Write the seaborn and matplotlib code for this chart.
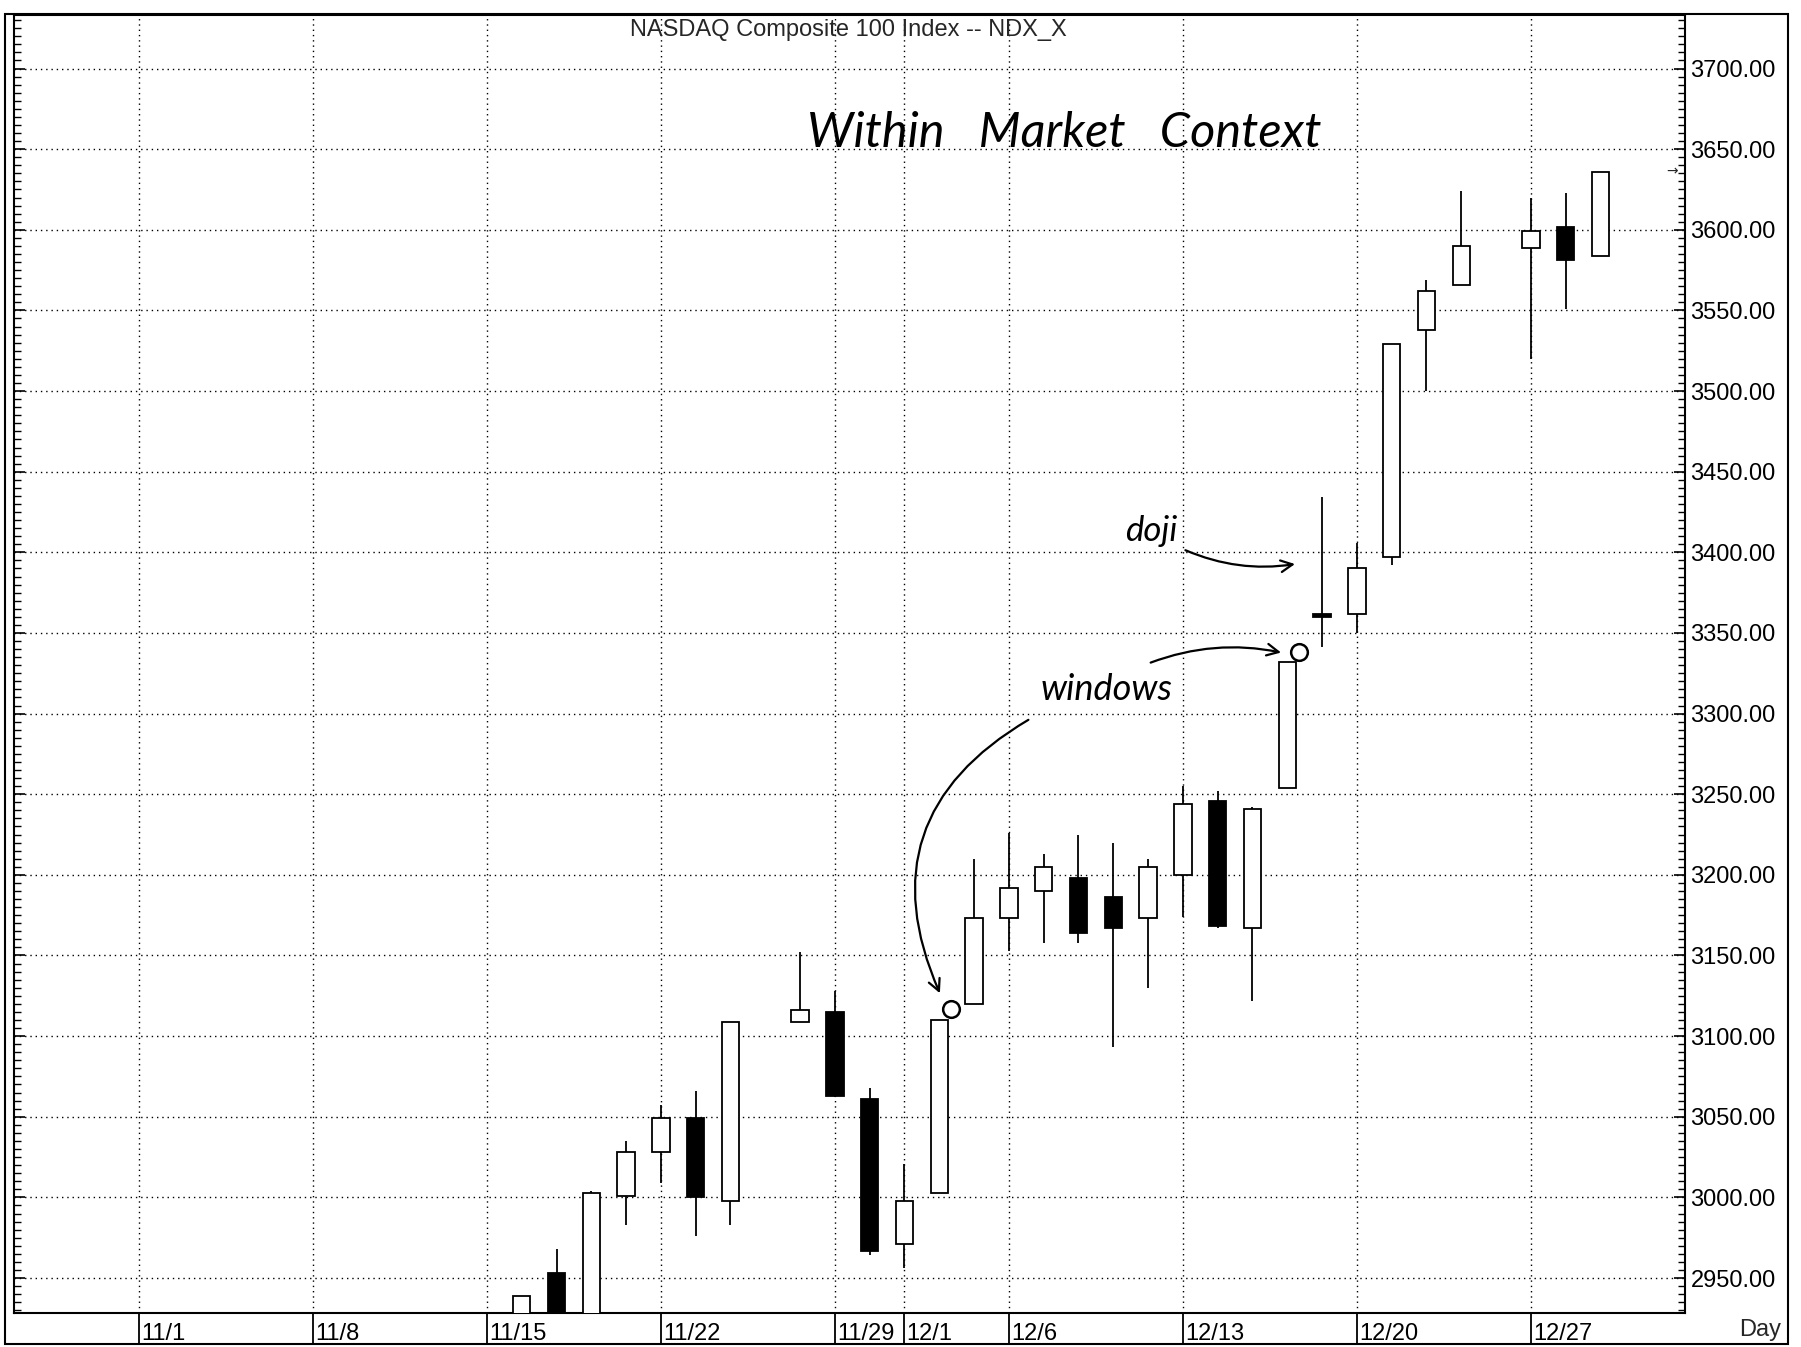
import numpy as np
import pandas as pd
import matplotlib
matplotlib.use("Agg")
import matplotlib.pyplot as plt
import matplotlib.transforms as mtransforms
from matplotlib.patches import Rectangle
from matplotlib.ticker import MultipleLocator, FormatStrFormatter
import seaborn as sns

# ---------------- data ----------------
dates = ["1999-11-16", "1999-11-17", "1999-11-18", "1999-11-19", "1999-11-22",
         "1999-11-23", "1999-11-24", "1999-11-26", "1999-11-29", "1999-11-30",
         "1999-12-01", "1999-12-02", "1999-12-03", "1999-12-06", "1999-12-07",
         "1999-12-08", "1999-12-09", "1999-12-10", "1999-12-13", "1999-12-14",
         "1999-12-15", "1999-12-16", "1999-12-17", "1999-12-20", "1999-12-21",
         "1999-12-22", "1999-12-23", "1999-12-27", "1999-12-28", "1999-12-29"]
opens = [2915, 2953, 2920, 3001, 3028, 3049, 2998, 3109, 3115, 3061,
         2971, 3003, 3120, 3173, 3190, 3198, 3186, 3173, 3200, 3246,
         3167, 3254, 3362, 3362, 3397, 3538, 3566, 3589, 3602, 3584]
highs = [2939, 2968, 3004, 3035, 3057, 3066, 3109, 3152, 3128, 3068,
         3021, 3110, 3210, 3226, 3213, 3225, 3220, 3210, 3255, 3252,
         3242, 3332, 3434, 3406, 3529, 3569, 3624, 3620, 3623, 3636]
lows = [2905, 2910, 2915, 2983, 3009, 2976, 2983, 3109, 3062, 2964,
        2956, 3003, 3120, 3153, 3158, 3158, 3093, 3130, 3174, 3167,
        3122, 3254, 3341, 3350, 3392, 3500, 3566, 3520, 3551, 3584]
closes = [2939, 2920, 3003, 3028, 3049, 3000, 3109, 3116, 3063, 2967,
          2998, 3110, 3173, 3192, 3205, 3164, 3167, 3205, 3244, 3168,
          3241, 3332, 3360, 3390, 3529, 3562, 3590, 3599, 3581, 3636]

calendar_start = "1999-11-01"
calendar_end = "1999-12-31"
tick_dates = ["1999-11-01", "1999-11-08", "1999-11-15", "1999-11-22", "1999-11-29",
              "1999-12-01", "1999-12-06", "1999-12-13", "1999-12-20", "1999-12-27"]
tick_labels = ["11/1", "11/8", "11/15", "11/22", "11/29",
               "12/1", "12/6", "12/13", "12/20", "12/27"]
y_ticks = [2950, 3000, 3050, 3100, 3150, 3200, 3250, 3300, 3350,
           3400, 3450, 3500, 3550, 3600, 3650, 3700]
window_dates = ["1999-12-03", "1999-12-17"]   # days that opened with a window (circled)

title = "NASDAQ Composite 100 Index -- NDX_X"
note_title = "Within   Market   Context"
note_doji = "doji"
note_windows = "windows"

# ---------------- layout ----------------
W, H = 1801, 1347
sns.set_theme(style="white")
plt.rcParams["font.family"] = ["Liberation Sans", "DejaVu Sans"]
plt.rcParams["axes.edgecolor"] = "black"
plt.rcParams["xtick.bottom"] = True
plt.rcParams["ytick.left"] = True
plt.rcParams["ytick.right"] = True

fig = plt.figure(figsize=(W / 100, H / 100), dpi=100)
fig.patch.set_facecolor("white")
ax = fig.add_axes([14 / W, 1 - 1313 / H, (1685 - 14) / W, (1313 - 15) / H])
ax.set_facecolor("white")

df = pd.DataFrame({"date": pd.to_datetime(dates), "open": opens, "high": highs,
                   "low": lows, "close": closes})
slots = pd.bdate_range(calendar_start, calendar_end)
slot_index = pd.Series(np.arange(len(slots)), index=slots)
df["x"] = slot_index.loc[df["date"]].values
df["up"] = df["close"] > df["open"]

# wicks
ax.vlines(df["x"], df["low"], df["high"], color="black", lw=1.3, zorder=3)
# bodies
body_bottom = np.minimum(df["open"], df["close"])
body_height = (df["close"] - df["open"]).abs()
ax.bar(df["x"], body_height, bottom=body_bottom, width=0.5,
       color=np.where(df["up"], "white", "black"), edgecolor="black",
       linewidth=1.3, zorder=4)

ax.set_xlim(-3.59, 44.43)
ax.set_ylim(2928.3, 3733.2)

# grid
tick_pos = slot_index.loc[pd.to_datetime(tick_dates)].values
ax.set_xticks(tick_pos)
ax.set_xticklabels(tick_labels)
ax.set_yticks(y_ticks)
ax.yaxis.set_major_formatter(FormatStrFormatter("%.2f"))
ax.yaxis.set_minor_locator(MultipleLocator(5))
ax.grid(True, which="major", color="black", lw=1.0, ls=(0, (1, 2.8)), zorder=1)

ax.tick_params(axis="x", bottom=True, direction="out", length=23, width=1.3,
               pad=-15.5, labelsize=17, colors="black")
ax.tick_params(axis="y", which="both", direction="in", left=True, right=True,
               labelleft=False, labelright=True, colors="black")
ax.tick_params(axis="y", which="major", length=8, width=1.2, labelsize=17, pad=4)
ax.tick_params(axis="y", which="minor", length=5, width=1.0)
offset = mtransforms.ScaledTranslation(2 / 100, 0, fig.dpi_scale_trans)
for lbl in ax.get_xticklabels():
    lbl.set_horizontalalignment("left")
    lbl.set_transform(lbl.get_transform() + offset)

for s in ax.spines.values():
    s.set_linewidth(1.5)
    s.set_color("black")

# outer frame
fig.add_artist(Rectangle((5 / W, 1 - 1344 / H), (1788 - 5) / W, (1344 - 14) / H,
                         transform=fig.transFigure, fill=False, ec="black", lw=1.5))
fig.text(848 / W, 1 - 36 / H, title, ha="center", va="baseline", fontsize=17)
fig.text(1781 / W, 1 - 1330 / H, "Day", ha="right", va="center", fontsize=17)

# last price marker
last_close = df["close"].iloc[-1]
ax.annotate("→", xy=(44.05, last_close), ha="center", va="center", fontsize=10,
            family="DejaVu Sans", annotation_clip=False)

# ---------------- handwritten notes ----------------
hand = dict(family="Lato", style="italic", weight="normal", color="black")
ax.text(26.6, 3660, note_title, ha="center", va="center", fontsize=35, **hand)
ax.text(29.1, 3413, note_doji, ha="center", va="center", fontsize=25, **hand)
ax.text(27.8, 3315, note_windows, ha="center", va="center", fontsize=26, **hand)

arrow = dict(arrowstyle="->,head_length=0.7,head_width=0.35", color="black", lw=1.6)
ax.annotate("", xy=(33.3, 3393), xytext=(30.0, 3402),
            arrowprops=dict(connectionstyle="arc3,rad=0.15", **arrow))

# circles at the windows, from the data
circ_x, circ_y = [], []
for d in window_dates:
    i = df.index[df["date"] == pd.Timestamp(d)][0]
    circ_x.append(df["x"].iloc[i] - 0.65)
    circ_y.append((df["high"].iloc[i - 1] + df["low"].iloc[i]) / 2 + 2)
ax.plot(circ_x, circ_y, ls="none", marker="o", ms=12, mfc="none", mec="black",
        mew=1.8, zorder=5)
ax.annotate("", xy=(circ_x[1] - 0.45, circ_y[1] - 1), xytext=(29.0, 3331),
            arrowprops=dict(connectionstyle="arc3,rad=-0.15", **arrow))
ax.annotate("", xy=(circ_x[0] - 0.3, circ_y[0] + 8), xytext=(25.63, 3297),
            arrowprops=dict(connectionstyle="arc3,rad=0.45", **arrow))

fig.savefig("out.png", dpi=100, facecolor="white")
